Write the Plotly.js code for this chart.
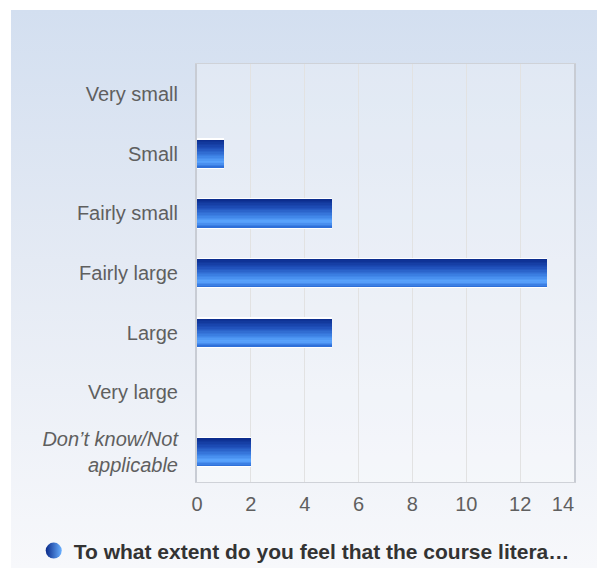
<!DOCTYPE html>
<html>
<head>
<meta charset="utf-8">
<script src="https://cdn.plot.ly/plotly-3.0.1.min.js"></script>
<style>
  html, body { margin: 0; padding: 0; background: #ffffff; }
  #wrap { position: relative; width: 597px; height: 568px; }
  #bg { position: absolute; left: 11px; top: 10px; width: 586px; height: 558px;
        background: linear-gradient(to bottom, #d3dff0 0%, #e4eaf4 45%, #f7f8fb 100%); }
  #chart { position: absolute; left: 0; top: 0; width: 597px; height: 568px; }
</style>
</head>
<body>
<div id="wrap"><div id="bg"></div><div id="chart"></div></div>
<script>
const categories = ["Very small", "Small", "Fairly small", "Fairly large", "Large", "Very large", "<i>Don’t know/Not<br>applicable</i>"];
const values = [0, 1, 5, 13, 5, 0, 2];
const seriesName = "To what extent do you feel that the course litera…";
const xTicks = [0, 2, 4, 6, 8, 10, 12, 14];

// gradient stops top->bottom for the bar shading
const stops = [[0, [10, 42, 138]], [0.3, [30, 78, 184]], [0.62, [64, 134, 232]], [0.8, [92, 166, 255]], [1, [40, 104, 212]]];
function colAt(t) {
  for (let i = 0; i < stops.length - 1; i++) {
    const a = stops[i], b = stops[i + 1];
    if (t <= b[0]) {
      const f = (t - a[0]) / (b[0] - a[0]);
      const c = a[1].map((v, k) => Math.round(v + (b[1][k] - v) * f));
      return `rgb(${c[0]},${c[1]},${c[2]})`;
    }
  }
  const c = stops[stops.length - 1][1];
  return `rgb(${c[0]},${c[1]},${c[2]})`;
}

const W = 0.47, N = 20;
const traces = [];
// white outline
traces.push({type: 'bar', orientation: 'h', x: values, y: categories, width: W + 0.04,
  marker: {color: '#ffffff', line: {width: 0}}, showlegend: false, hoverinfo: 'skip'});
for (let i = 0; i < N; i++) {
  traces.push({type: 'bar', orientation: 'h', x: values, y: categories,
    width: W / N + 0.004, offset: -W / 2 + i * W / N,
    marker: {color: colAt((i + 0.5) / N), line: {width: 0}}, showlegend: false, hoverinfo: 'skip'});
}
// legend entry
traces.push({type: 'scatter', mode: 'markers', x: [null], y: [null], name: seriesName,
  marker: {symbol: 'circle', size: 19, color: '#0a2a8a', gradient: {type: 'horizontal', color: '#6ab0ff'}},
  showlegend: true});

// last tick label sits pulled inward (as in the original rendering)
const xTickText = xTicks.map((v, i) => i === xTicks.length - 1 ? String(v) + '\u00a0\u00a0\u00a0\u00a0' : String(v));

const layout = {
  width: 597, height: 568,
  margin: {l: 197, r: 23, t: 64, b: 86, autoexpand: false},
  paper_bgcolor: 'rgba(0,0,0,0)',
  plot_bgcolor: 'rgba(255,255,255,0.25)',
  barmode: 'overlay',
  bargap: 0,
  font: {family: '"Liberation Sans", Arial, sans-serif', size: 20, color: '#5f5f5f'},
  xaxis: {range: [0, 14], tickvals: xTicks, ticktext: xTickText,
    showgrid: true, gridcolor: '#e2e2e2', gridwidth: 1, zeroline: false,
    showline: true, linecolor: '#cfd2d8', linewidth: 1, mirror: true,
    ticks: 'outside', ticklen: 4, tickcolor: 'rgba(0,0,0,0)', fixedrange: true},
  yaxis: {type: 'category', categoryarray: categories, categoryorder: 'array', autorange: 'reversed',
    showgrid: false, zeroline: false, showline: true, linecolor: '#c8ccd4', linewidth: 2, mirror: true,
    ticks: 'outside', ticklen: 13, tickcolor: 'rgba(0,0,0,0)', fixedrange: true},
  showlegend: true,
  legend: {orientation: 'h', xref: 'container', yref: 'container', x: 0.0565, xanchor: 'left', y: 0.03, yanchor: 'middle',
    bgcolor: 'rgba(0,0,0,0)', font: {family: '"Liberation Sans", Arial, sans-serif', size: 21, color: '#333333', weight: 'bold'},
    itemwidth: 30}
};

Plotly.newPlot('chart', traces, layout, {displayModeBar: false, staticPlot: true});
</script>
</body>
</html>
